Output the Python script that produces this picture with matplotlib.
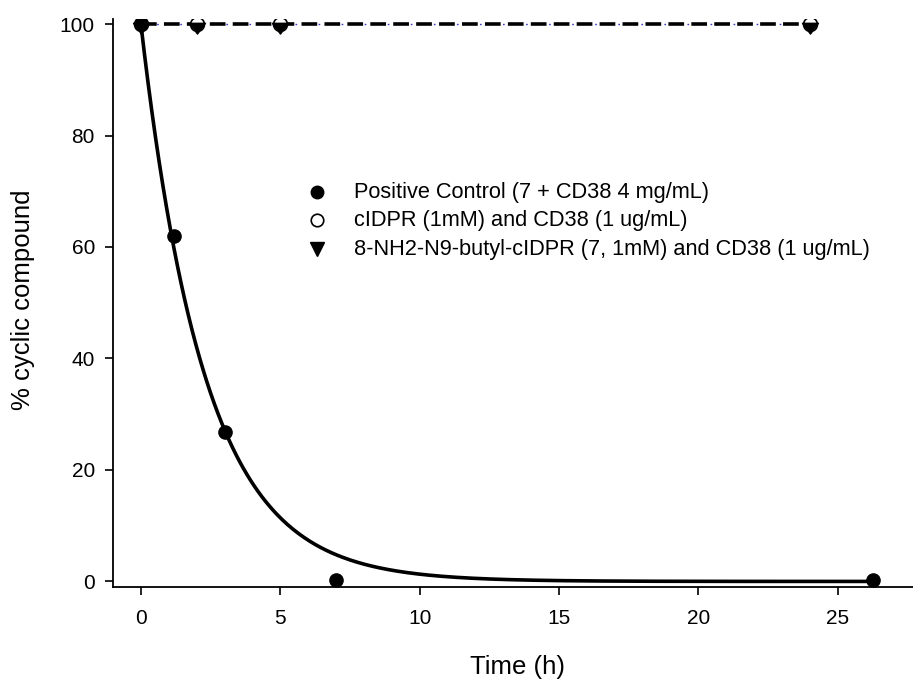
import numpy as np
import matplotlib.pyplot as plt
from matplotlib.path import Path

plt.rcParams['font.family'] = ['Liberation Sans', 'DejaVu Sans']

# Positive control (7 + CD38 4 mg/mL)
t_pos = [0, 1.2, 3, 7, 26.25]
y_pos = [100, 62, 26.8, 0.3, 0.3]

# cIDPR (1mM) and CD38 (1 ug/mL)
t_cidpr = [0, 2, 5, 24]
y_cidpr = [100, 100, 100, 100]

# 8-NH2-N9-butyl-cIDPR (7, 1mM) and CD38 (1 ug/mL)
t_butyl = [0, 2, 5, 24]
y_butyl = [100, 100, 100, 100]

labels = ['Positive Control (7 + CD38 4 mg/mL)',
          'cIDPR (1mM) and CD38 (1 ug/mL)',
          '8-NH2-N9-butyl-cIDPR (7, 1mM) and CD38 (1 ug/mL)']

# single exponential decay fit y = 100*exp(-k t), least squares over k
tp = np.array(t_pos)
yp = np.array(y_pos)
ks = np.linspace(0.05, 1.5, 3000)
sse = [np.sum((yp - 100 * np.exp(-k * tp)) ** 2) for k in ks]
k_fit = ks[int(np.argmin(sse))]
t_fit = np.linspace(0, max(t_pos), 400)
y_fit = 100 * np.exp(-k_fit * t_fit)

# down triangle hanging from the point (flat top near the data value)
tri_down = Path([(-1, 0.15), (1, 0.15), (0, -1.2), (-1, 0.15)],
                [Path.MOVETO, Path.LINETO, Path.LINETO, Path.CLOSEPOLY])

fig = plt.figure(figsize=(9.13, 6.86), dpi=100)
ax = fig.add_axes([0.1238, 0.1443, 0.8762, 0.8280])

lw = 2.6
ax.plot(t_cidpr, y_cidpr, color='#3a3ad0', lw=1.0, ls=(5.3, (1.2, 15.4)), zorder=2)
ax.plot(t_butyl, y_butyl, color='black', lw=lw, ls=(0, (4.35, 2.0)), zorder=1)
ax.plot(t_fit, y_fit, color='black', lw=lw, zorder=2)

ax.plot(t_pos, y_pos, 'o', color='black', ms=9.5, zorder=4)
ax.plot(t_cidpr, y_cidpr, 'o', mfc='white', mec='black', mew=1.2, ms=10, zorder=3)
ax.plot(t_butyl, y_butyl, marker=tri_down, ls='none', color='black', ms=13.8, zorder=5)

ax.set_xlim(-1, 27.7)
ax.set_ylim(-1, 100.9)
ax.set_xticks([0, 5, 10, 15, 20, 25])
ax.set_yticks([0, 20, 40, 60, 80, 100])
ax.spines['top'].set_visible(False)
ax.spines['right'].set_visible(False)
ax.spines['left'].set_linewidth(1.3)
ax.spines['bottom'].set_linewidth(1.3)
ax.tick_params(direction='out', length=6, width=1.2, labelsize=15)
ax.tick_params(axis='x', pad=10)
ax.tick_params(axis='y', pad=7)

ax.set_xlabel('Time (h)', fontsize=18.5)
ax.set_ylabel('% cyclic compound', fontsize=18.5)
ax.xaxis.label.set_va('center')
ax.yaxis.label.set_va('center')
ax.xaxis.set_label_coords(0.505, -0.141)
ax.yaxis.set_label_coords(-0.112, 0.505)

# legend drawn as markers + text in data coordinates
leg_x = (317 - 140.7) / 27.9
txt_x = (354 - 140.7) / 27.9
leg_y = [(581 - 192) / 5.57, (581 - 220) / 5.57, (581 - 249) / 5.57]
ax.plot(leg_x, leg_y[0], 'o', color='black', ms=9)
ax.plot(leg_x, leg_y[1], 'o', mfc='white', mec='black', mew=1.2, ms=9)
ax.plot(leg_x, leg_y[2], 'v', color='black', ms=10)
for y, lab in zip(leg_y, labels):
    ax.text(txt_x, y, lab, fontsize=15.7, va='center', ha='left')

fig.savefig('out.png', dpi=100)
